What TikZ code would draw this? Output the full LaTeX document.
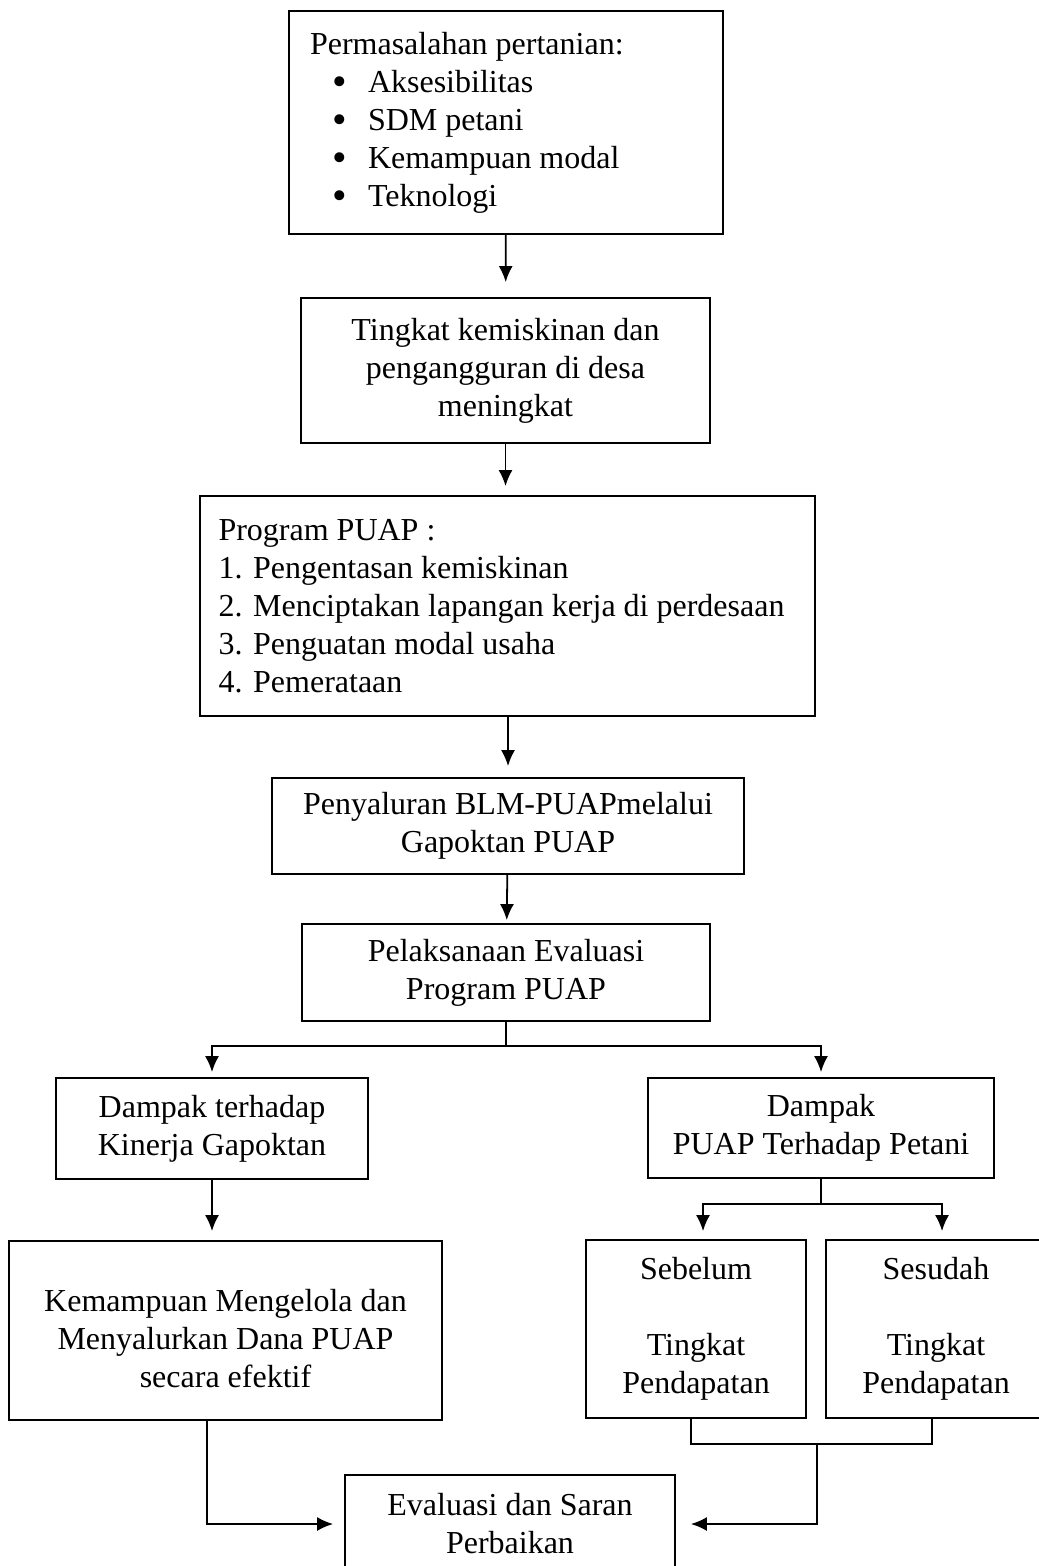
\documentclass[tikz,border=0pt]{standalone}
\usepackage{fontspec}
\setmainfont{Liberation Serif}
\usetikzlibrary{arrows.meta, positioning}
\newcommand{\butir}{\makebox[29pt][r]{\raisebox{-0.1em}{\scalebox{1.3}{\textbullet}}\hspace{10.5pt}}}

\begin{document}
\begin{tikzpicture}[x=0.5pt, y=-0.5pt, font=\fontsize{16}{19}\selectfont,
  kotak/.style={draw, line width=0.9pt, inner sep=0pt, align=center},
  daftar/.style={kotak, align=flush left},
  panah/.style={line width=0.9pt, -{Latex[length=8pt, width=7pt]}, shorten >=4pt},
  garis/.style={line width=0.9pt}]
\useasboundingbox (0,0) rectangle (1038,1566);
% kotak utama
\node[daftar, minimum width=217pt, minimum height=111.5pt, text width=196pt, inner xsep=10.5pt] (masalah) at (506,122.5)
  {Permasalahan pertanian:\\\butir Aksesibilitas\\\butir SDM petani\\\butir Kemampuan modal\\\butir Teknologi};
\node[kotak, minimum width=204.5pt, minimum height=72.5pt] (miskin) at (505.5,370.5) {Tingkat kemiskinan dan\\pengangguran di desa\\meningkat};
\node[daftar, minimum width=307.5pt, minimum height=110pt, text width=289pt, inner xsep=9.25pt] (program) at (507.5,606)
  {Program PUAP :\\1. Pengentasan kemiskinan\\2. Menciptakan lapangan kerja di perdesaan\\3. Penguatan modal usaha\\4. Pemerataan\\[-6pt]};
\node[kotak, minimum width=236pt, minimum height=48pt] (salur) at (508,826) {Penyaluran BLM-PUAPmelalui\\Gapoktan PUAP};
\node[kotak, minimum width=204pt, minimum height=48.5pt] (evaluasi) at (506,972.5) {Pelaksanaan Evaluasi\\Program PUAP};
% dua cabang
\node[kotak, minimum width=156pt, minimum height=50.5pt] (kinerja) at (212,1128.5) {Dampak terhadap\\Kinerja Gapoktan};
\node[kotak, minimum width=173pt, minimum height=50pt] (petani) at (821,1128) {Dampak\\PUAP Terhadap Petani};
\node[kotak, minimum width=216.5pt, minimum height=89.5pt] (kelola) at (225.5,1330.5) {\mbox{}\\Kemampuan Mengelola dan\\Menyalurkan Dana PUAP\\secara efektif};
\node[kotak, minimum width=110pt, minimum height=89pt] (sebelum) at (696,1329) {Sebelum\\\mbox{}\\Tingkat\\Pendapatan};
\node[kotak, minimum width=110pt, minimum height=89pt] (sesudah) at (936,1329) {Sesudah\\\mbox{}\\Tingkat\\Pendapatan};
\node[kotak, minimum width=165pt, minimum height=49pt] (saran) at (510,1524) {Evaluasi dan Saran\\Perbaikan};
% panah
\draw[panah, shorten >=7.5pt] (masalah) -- (miskin);
\draw[panah, shorten >=4.5pt] (miskin) -- (program.north -| miskin.south);
\draw[panah, shorten >=5.5pt] (program.south -| salur.north) -- (salur);
\draw[panah, shorten >=1.5pt] (salur) -- (evaluasi);
\draw[garis] (evaluasi.south) -- ++(0,24) coordinate (cabang);
\draw[panah, shorten >=2.5pt] (cabang) -| (kinerja.north);
\draw[panah, shorten >=2.5pt] (cabang) -| (petani.north);
\draw[panah, shorten >=4.5pt] (kinerja.south) -- (kinerja.south |- kelola.north);
\draw[garis] (petani.south) -- ++(0,25) coordinate (cabang2);
\draw[panah] (cabang2) -| ([xshift=3.5pt]sebelum.north);
\draw[panah] (cabang2) -| ([xshift=3pt]sesudah.north);
\draw[garis] ([xshift=-2.5pt]sebelum.south) -- ++(0,25) -| ([xshift=-2pt]sesudah.south);
\coordinate (gabung) at (817,1443);
\draw[panah, shorten >=7.5pt] (gabung) |- (saran.east);
\draw[panah, shorten >=5.5pt] ([xshift=-9.25pt]kelola.south) |- (saran.west);
\end{tikzpicture}
\end{document}
